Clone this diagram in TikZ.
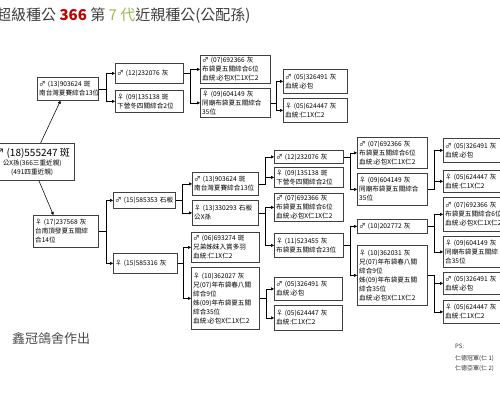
\documentclass[tikz,border=0pt]{standalone}
\usepackage{fontspec}
\setmainfont{Noto Sans CJK TC}
\usetikzlibrary{arrows.meta,calc}
\definecolor{tred}{RGB}{192,0,0}
\definecolor{tgreen}{RGB}{155,187,89}
\begin{document}
\begin{tikzpicture}[x=1pt,y=-1pt,
  bx/.style={draw=black!75, line width=0.75pt, fill=white, anchor=north west, align=left,
    inner xsep=1.8pt, inner ysep=1pt, font=\fontsize{6.6}{9}\selectfont, text=black},
  conn/.style={draw=black, line width=0.55pt, -{Triangle[length=3pt,width=3pt]}}]
\useasboundingbox[fill=white] (0,0) rectangle (500,400);

% title
\node[anchor=west, inner sep=0, font=\fontsize{15}{18}\selectfont, text=black!75] (title) at (-4,16)
  {超級種公 {\color{tred}\bfseries 366} 第 {\color{tgreen}7 代}近親種公(公配孫)};

% root
\node[bx, align=center, text width=80pt, minimum height=37pt] (R) at (-10,143)
  {{\fontsize{10}{12}\selectfont ♂ (18)555247 斑}\\公X孫(366三重近親)\\(491四重近親)};

% column 2
\node[bx, text width=57.4pt, minimum height=23pt] (A) at (37,77) {♂ (13)903624 斑\\南台灣夏賽綜合13位};
\node[bx, text width=61.4pt, minimum height=32pt] (B) at (33,215) {♀ (17)237568 灰\\台南頂發夏五關綜\\合14位};

% column 3
\node[bx, text width=64.4pt, minimum height=20pt] (C1) at (115,63) {♂ (12)232076 灰};
\node[bx, text width=64.4pt, minimum height=22pt] (C2) at (115,90) {♀ (09)135138 斑\\下營冬四關綜合2位};
\node[bx, text width=58.4pt, minimum height=16pt] (C3) at (113,192) {♂ (15)585353 石板};
\node[bx, text width=60.4pt, minimum height=20pt] (C4) at (113,253) {♀ (15)585316 灰};

% column 4
\node[bx, text width=66.4pt, minimum height=28pt] (D1) at (200,55) {♂ (07)692366 灰\\布袋夏五關綜合6位\\血統:必包X仁1X仁2};
\node[bx, text width=66.4pt, minimum height=29pt] (D2) at (200,88) {♀ (09)604149 灰\\同廟布袋夏五關綜合\\35位};
\node[bx, text width=62.4pt, minimum height=23pt] (D3) at (192,172) {♂ (13)903624 斑\\南台灣夏賽綜合13位};
\node[bx, text width=62.4pt, minimum height=25pt] (D4) at (192,200) {♀ (13)330293 石板\\公X孫};
\node[bx, text width=64.4pt, minimum height=30pt] (D5) at (191,232) {♂ (06)693274 斑\\兄弟姊妹入賞多羽\\血統:仁1X仁2};
\node[bx, text width=64.4pt, minimum height=62pt] (D6) at (191,267) {♀ (10)362027 灰\\兄(07)年布袋春八關\\綜合9位\\姊(09)年布袋夏五關\\綜合35位\\血統:必包X仁1X仁2};

% column 5
\node[bx, text width=60.4pt, minimum height=24pt] (E1) at (283,69) {♂ (05)326491 灰\\血統:必包};
\node[bx, text width=60.4pt, minimum height=24pt] (E2) at (283,98) {♀ (05)624447 灰\\血統:仁1X仁2};
\node[bx, text width=65.4pt, minimum height=13pt] (E3) at (274,150) {♂ (12)232076 灰};
\node[bx, text width=65.4pt, minimum height=20pt] (E4) at (274,167) {♀ (09)135138 斑\\下營冬四關綜合2位};
\node[bx, text width=65.4pt, minimum height=28pt] (E5) at (274,193) {♂ (07)692366 灰\\布袋夏五關綜合6位\\血統:必包X仁1X仁2};
\node[bx, text width=65.4pt, minimum height=24pt] (E6) at (274,233) {♀ (11)523455 灰\\布袋夏五關綜合23位};
\node[bx, text width=64.4pt, minimum height=23pt] (E7) at (274,277) {♂ (05)326491 灰\\血統:必包};
\node[bx, text width=64.4pt, minimum height=25pt] (E8) at (274,305) {♀ (05)624447 灰\\血統:仁1X仁2};

% column 6
\node[bx, text width=66.4pt, minimum height=31pt] (F1) at (357,137) {♂ (07)692366 灰\\布袋夏五關綜合6位\\血統:必包X仁1X仁2};
\node[bx, text width=66.4pt, minimum height=32pt] (F2) at (357,173) {♀ (09)604149 灰\\同廟布袋夏五關綜合\\35位};
\node[bx, text width=66.4pt, minimum height=14pt] (F3) at (357,219) {♂ (10)202772 灰};
\node[bx, text width=66.4pt, minimum height=60pt] (F4) at (357,245) {♀ (10)362031 灰\\兄(07)年布袋春八關\\綜合9位\\姊(09)年布袋夏五關\\綜合35位\\血統:必包X仁1X仁2};

% column 7
\node[bx, text width=66.4pt, minimum height=24pt] (G1) at (443,138) {♂ (05)326491 灰\\血統:必包};
\node[bx, text width=66.4pt, minimum height=22pt] (G2) at (443,170) {♀ (05)624447 灰\\血統:仁1X仁2};
\node[bx, text width=66.4pt, minimum height=34pt] (G3) at (443,197) {♂ (07)692366 灰\\布袋夏五關綜合6位\\血統:必包X仁1X仁2};
\node[bx, text width=66.4pt, minimum height=31pt] (G4) at (443,236) {♀ (09)604149 灰\\同廟布袋夏五關綜\\合35位};
\node[bx, text width=66.4pt, minimum height=22pt] (G5) at (443,272) {♂ (05)326491 灰\\血統:必包};
\node[bx, text width=66.4pt, minimum height=23pt] (G6) at (443,300) {♀ (05)624447 灰\\血統:仁1X仁2};

% connectors
\draw[conn] ($(R.north west)!0.6!(R.north east)$) -- ($(A.south west)!0.38!(A.south east)$);
\draw[conn] ($(R.south west)!0.58!(R.south east)$) -- ($(B.north west)!0.31!(B.north east)$);

\draw[conn] (A.east) -- ++(8,0) |- (C1.west);
\draw[conn] (A.east) -- ++(8,0) |- (C2.west);
\draw[conn] (C1.east) -- ++(7,0) |- (D1.west);
\draw[conn] (C1.east) -- ++(7,0) |- (D2.west);
\draw[conn] (D2.east) -- ++(6,0) |- (E1.west);
\draw[conn] (D2.east) -- ++(6,0) |- (E2.west);

\draw[conn] (B.east) -- ++(8,0) |- (C3.west);
\draw[conn] (B.east) -- ++(8,0) |- (C4.west);
\draw[conn] (C3.east) -- ++(7,0) |- (D3.west);
\draw[conn] (C3.east) -- ++(7,0) |- (D4.west);
\draw[conn] (C4.east) -- ++(6,0) |- (D5.west);
\draw[conn] (C4.east) -- ++(6,0) |- (D6.west);
\draw[conn] (D3.east) -- ++(7,0) |- (E3.west);
\draw[conn] (D3.east) -- ++(7,0) |- (E4.west);
\draw[conn] (D4.east) -- ++(7,0) |- (E5.west);
\draw[conn] (D4.east) -- ++(7,0) |- (E6.west);
\draw[conn] (D6.east) -- ++(7,0) |- (E7.west);
\draw[conn] (D6.east) -- ++(7,0) |- (E8.west);
\draw[conn] (E3.east) -- ++(7,0) |- (F1.west);
\draw[conn] (E3.east) -- ++(7,0) |- (F2.west);
\draw[conn] (E6.east) -- ++(7,0) |- (F3.west);
\draw[conn] (E6.east) -- ++(7,0) |- (F4.west);
\draw[conn] (F2.east) -- ++(7,0) |- (G1.west);
\draw[conn] (F2.east) -- ++(7,0) |- (G2.west);
\draw[conn] (F3.east) -- ++(7,0) |- (G3.west);
\draw[conn] (F3.east) -- ++(7,0) |- (G4.west);
\draw[conn] (F4.east) -- ++(7,0) |- (G5.west);
\draw[conn] (F4.east) -- ++(7,0) |- (G6.west);

% footer
\node[anchor=west, inner sep=0, font=\fontsize{13}{15}\selectfont, text=black!70] (maker) at (12,339) {鑫冠鴿舍作出};
\node[anchor=west, inner sep=0, font=\fontsize{6}{7}\selectfont, text=black!80] (ps) at (455,346) {PS:};
\node[anchor=west, inner sep=0, font=\fontsize{6}{7}\selectfont, text=black!80] (ps1) at (455,359) {仁德冠軍(仁 1)};
\node[anchor=west, inner sep=0, font=\fontsize{6}{7}\selectfont, text=black!80] (ps2) at (455,369) {仁德亞軍(仁 2)};
\end{tikzpicture}
\end{document}
